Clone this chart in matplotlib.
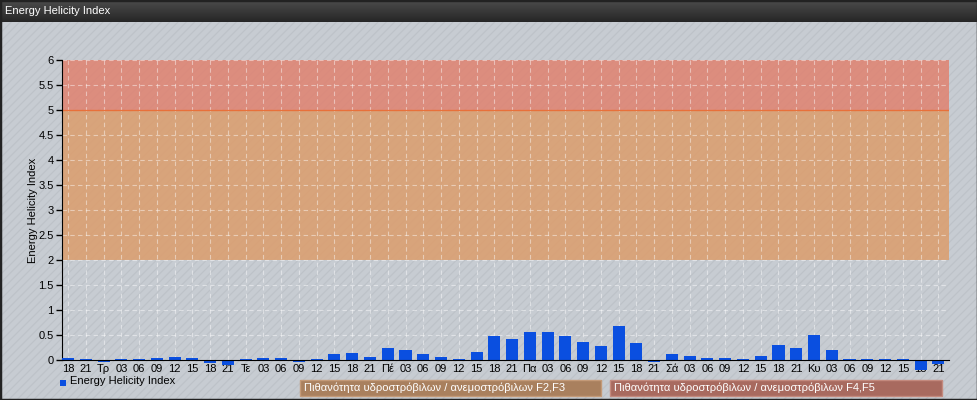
import numpy as np
import matplotlib.pyplot as plt
from matplotlib.patches import Rectangle
from matplotlib.colors import LinearSegmentedColormap

plt.rcParams['font.family'] = ['Liberation Sans', 'DejaVu Sans']
plt.rcParams['hatch.linewidth'] = 0.8

# x tick labels (3-hourly, day names at 00)
labels = ['18', '21', 'Τρ', '03', '06', '09', '12', '15', '18', '21',
          'Τε', '03', '06', '09', '12', '15', '18', '21',
          'Πέ', '03', '06', '09', '12', '15', '18', '21',
          'Πα', '03', '06', '09', '12', '15', '18', '21',
          'Σά', '03', '06', '09', '12', '15', '18', '21',
          'Κυ', '03', '06', '09', '12', '15', '18', '21']
ehi = [0.04, 0.03, -0.03, 0.03, 0.03, 0.05, 0.07, 0.04, -0.06, -0.10,
       0.03, 0.05, 0.05, -0.03, 0.03, 0.12, 0.15, 0.07,
       0.25, 0.21, 0.13, 0.07, 0.03, 0.16, 0.49, 0.43,
       0.56, 0.56, 0.49, 0.37, 0.29, 0.69, 0.34, -0.03,
       0.12, 0.08, 0.05, 0.04, 0.03, 0.09, 0.31, 0.24,
       0.51, 0.21, 0.03, 0.03, 0.03, 0.03, -0.20, -0.07]
band_f23 = (2, 5)
band_f45 = (5, 6)
legend_f23 = 'Πιθανότητα υδροστρόβιλων / ανεμοστρόβιλων F2,F3'
legend_f45 = 'Πιθανότητα υδροστρόβιλων / ανεμοστρόβιλων F4,F5'

W, H = 978, 400
fs = 8
fig = plt.figure(figsize=(W / 100, H / 100), dpi=100)

# background with a faint diagonal texture
bg = fig.add_axes([0, 0, 1, 1], zorder=-10)
bg.set_axis_off()
bg.set_xlim(0, 1)
bg.set_ylim(0, 1)
bg.add_patch(Rectangle((0, 0), 1, 1, facecolor='#c7ccd2', edgecolor='#bdc2c8',
                       lw=0, hatch='////'))

# title bar with a dark gradient
tb = fig.add_axes([0, 1 - 22 / H, 1, 22 / H])
grad = np.linspace(0, 1, 50).reshape(-1, 1)
tb.imshow(grad, aspect='auto', extent=[0, 1, 0, 1],
          cmap=LinearSegmentedColormap.from_list('tb', ['#4c4c4c', '#262626']))
tb.set_axis_off()
tb.text(5 / W, 0.5, 'Energy Helicity Index', color='white', fontsize=fs,
        va='center', ha='left', transform=tb.transAxes)

ax = fig.add_axes([62 / W, 1 - 360 / H, (949 - 62) / W, 300 / H])
ax.patch.set_alpha(0)
x = np.arange(len(ehi))

ax.axhspan(*band_f23, color='#dc9d6c', alpha=0.85, lw=0, zorder=0)
ax.axhspan(*band_f45, color='#e08270', alpha=0.85, lw=0, zorder=0)
ax.axhline(5, color='#e8703a', lw=1, zorder=1)

ax.set_ylim(0, 6)
ax.set_xlim(-0.34, len(ehi) - 0.4)
ax.set_yticks(np.arange(0, 6.01, 0.5))
ax.set_yticklabels(['0', '0.5', '1', '1.5', '2', '2.5', '3', '3.5', '4', '4.5', '5', '5.5', '6'])
ax.set_xticks(x)
ax.set_xticklabels(labels)
ax.tick_params(axis='x', length=0, pad=3, labelsize=fs)
ax.tick_params(axis='y', length=4, width=1, pad=2, labelsize=fs, direction='out')
ax.grid(True, color='white', alpha=0.45, linestyle=(0, (4, 3)), lw=0.8)
ax.set_axisbelow(True)

ax.bar(x, ehi, width=0.68, color='#0a4fe0', zorder=3, clip_on=False)

for s in ['top', 'right']:
    ax.spines[s].set_visible(False)
ax.spines['left'].set_color('black')
ax.spines['bottom'].set_color('black')
ax.spines['bottom'].set_zorder(4)
ax.set_ylabel('Energy Helicity Index', fontsize=fs, labelpad=0)

# legend
fig.patches.append(Rectangle((60 / W, 1 - 386 / H), 6 / W, 6 / H, transform=fig.transFigure,
                             facecolor='#0a4fe0', lw=0))
fig.text(70 / W, 1 - 381 / H, 'Energy Helicity Index', fontsize=fs, va='center')
fig.patches.append(Rectangle((300 / W, 1 - 396 / H), 301 / W, 16 / H, transform=fig.transFigure,
                             facecolor='#a9805e', edgecolor='#c49a78', lw=1))
fig.text(304 / W, 1 - 388 / H, legend_f23, fontsize=fs, va='center', color='white')
fig.patches.append(Rectangle((610 / W, 1 - 396 / H), 332 / W, 16 / H, transform=fig.transFigure,
                             facecolor='#a86a5f', edgecolor='#c48a7e', lw=1))
fig.text(614 / W, 1 - 388 / H, legend_f45, fontsize=fs, va='center', color='white')

# outer border
fig.patches.append(Rectangle((0, 0), 1, 1, transform=fig.transFigure,
                             facecolor='none', edgecolor='#222222', lw=2.5))

fig.savefig('out.png', dpi=100)
